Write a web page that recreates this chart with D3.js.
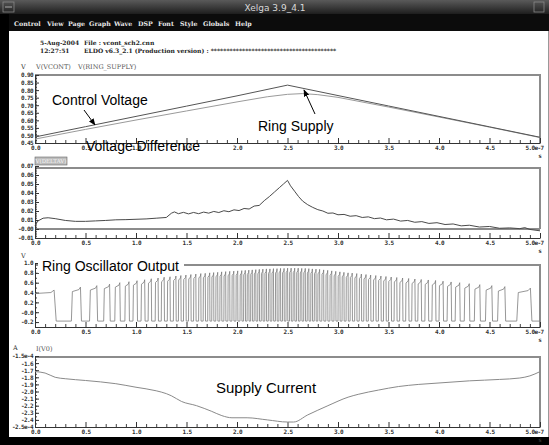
<!DOCTYPE html>
<html><head><meta charset="utf-8">
<script src="https://cdn.jsdelivr.net/npm/d3@7"></script>
<style>body{margin:0;background:#fff;overflow:hidden}svg{display:block}</style>
</head><body><svg id="c" width="549" height="445"></svg>
<script>
// ---------------- DATA ----------------
const xMajorTicks = [0, 0.5, 1, 1.5, 2, 2.5, 3, 3.5, 4, 4.5, 5];
const xMajorLabels = ["0.0","0.5","1.0","1.5","2.0","2.5","3.0","3.5","4.0","4.5","5.0e-7"];

// Panel 1: V(VCONT), V(RING_SUPPLY)  (time in 1e-7 s)
const vcontT = [0, 0.5, 1, 1.5, 2, 2.5, 3, 3.5, 4, 4.5, 5];
const vcontV = [0.49, 0.558, 0.626, 0.694, 0.762, 0.833, 0.764, 0.695, 0.626, 0.557, 0.488];
const ringT = [0, 0.5, 1, 1.5, 2, 2.3, 2.5, 2.65, 2.8, 3, 3.5, 4, 4.5, 5];
const ringV = [0.476, 0.54, 0.602, 0.662, 0.722, 0.756, 0.772, 0.777, 0.77, 0.752, 0.688, 0.622, 0.555, 0.486];
const p1Ticks = [0.45,0.50,0.55,0.60,0.65,0.70,0.75,0.80,0.85,0.90];
const p1Labels = ["0.45","0.50","0.55","0.60","0.65","0.70","0.75","0.80","0.85","0.90"];

// Panel 2: V(DELTAV)
const deltaT = [0,0.03,0.08,0.13,0.2,0.3,0.4,0.5,0.6,0.7,0.8,0.9,1.0,1.1,1.2,1.3,1.35,1.38,1.42,1.47,1.52,1.57,1.62,1.67,1.72,1.77,1.82,1.87,1.92,1.97,2.02,2.07,2.12,2.17,2.22,2.27,2.32,2.37,2.42,2.46,2.5,2.53,2.57,2.61,2.65,2.7,2.75,2.8,2.85,2.9,2.95,3.0,3.06,3.12,3.18,3.24,3.3,3.36,3.42,3.48,3.55,3.62,3.69,3.76,3.83,3.9,3.98,4.06,4.14,4.22,4.3,4.4,4.5,4.6,4.7,4.8,4.85,4.9,5.0];
const deltaV = [0.004,0.009,0.012,0.0125,0.0115,0.0095,0.0085,0.0085,0.009,0.0095,0.0102,0.0104,0.0108,0.0112,0.012,0.0128,0.0175,0.019,0.017,0.0185,0.0168,0.0184,0.017,0.0188,0.0176,0.0195,0.0183,0.0203,0.0192,0.0213,0.0205,0.0228,0.0222,0.0255,0.0262,0.0315,0.036,0.041,0.046,0.05,0.054,0.048,0.042,0.036,0.031,0.027,0.024,0.0215,0.02,0.0175,0.0178,0.0158,0.0162,0.0142,0.0148,0.0128,0.0135,0.0115,0.0122,0.0102,0.011,0.0088,0.0095,0.0075,0.0082,0.0062,0.007,0.005,0.0056,0.0035,0.0042,0.0022,0.0028,0.0008,0.0012,0.0004,0.0015,-0.0005,-0.002];
const p2Ticks = [-0.01,0,0.01,0.02,0.03,0.04,0.05,0.06,0.07];
const p2Labels = ["-0.01","-0.00","0.01","0.02","0.03","0.04","0.05","0.06","0.07"];

// Panel 3: ring oscillator output, pulses [rise, fall, high level]; low level
const oscLow = -0.18;
const oscPulses = [
 [0,0.21,0.40],[0.36,0.46,0.46],[0.54,0.62,0.49],[0.68,0.745,0.52],[0.79,0.845,0.55],
 [0.89,0.935,0.57],[0.97,1.015,0.59],[1.05,1.09,0.61],[1.12,1.155,0.63],[1.19,1.222,0.645],
 [1.25,1.282,0.66],[1.31,1.34,0.67],[1.37,1.398,0.685],[1.42,1.447,0.695],[1.47,1.497,0.705],
 [1.52,1.546,0.715],[1.57,1.595,0.725],[1.62,1.644,0.735],[1.665,1.688,0.74],[1.71,1.732,0.75],
 [1.75,1.771,0.755],[1.79,1.811,0.76],[1.83,1.85,0.77],[1.87,1.89,0.775],[1.91,1.93,0.78],
 [1.95,1.97,0.785],[1.99,2.009,0.79],[2.03,2.049,0.795],[2.065,2.084,0.80],[2.10,2.119,0.805],
 [2.135,2.153,0.81],[2.17,2.188,0.815],[2.205,2.223,0.82],[2.24,2.258,0.825],[2.275,2.293,0.83],
 [2.31,2.328,0.83],[2.345,2.363,0.835],[2.38,2.398,0.835],[2.415,2.433,0.84],[2.45,2.468,0.84],
 [2.485,2.503,0.845],[2.52,2.538,0.845],[2.555,2.573,0.845],[2.59,2.608,0.845],[2.625,2.643,0.84],
 [2.66,2.678,0.84],[2.695,2.713,0.835],[2.73,2.748,0.83],[2.765,2.784,0.825],[2.80,2.82,0.82],
 [2.84,2.86,0.81],[2.88,2.90,0.80],[2.92,2.94,0.79],[2.96,2.98,0.78],[3.00,3.021,0.77],
 [3.04,3.061,0.76],[3.08,3.102,0.75],[3.12,3.143,0.745],[3.165,3.188,0.735],[3.21,3.234,0.725],
 [3.255,3.28,0.715],[3.30,3.326,0.705],[3.35,3.377,0.695],[3.40,3.428,0.685],[3.45,3.478,0.675],
 [3.50,3.53,0.665],[3.555,3.585,0.655],[3.61,3.643,0.645],[3.67,3.703,0.635],[3.73,3.765,0.625],
 [3.79,3.828,0.615],[3.86,3.898,0.605],[3.93,3.97,0.595],[4.00,4.045,0.58],[4.08,4.125,0.565],
 [4.16,4.21,0.55],[4.25,4.305,0.53],[4.35,4.41,0.51],[4.46,4.53,0.49],[4.58,4.66,0.47],
 [4.77,4.92,0.44]
];
const p3Ticks = [-0.2,0,0.2,0.4,0.6,0.8,1.0];
const p3Labels = ["-0.2","-0.0","0.2","0.4","0.6","0.8","1.0"];

// Panel 4: I(V0) in 1e-4 A
const curT = [0,0.1,0.2,0.3,0.5,0.8,1.0,1.2,1.3,1.35,1.45,1.6,1.75,1.85,1.95,2.1,2.3,2.5,2.56,2.7,2.9,3.1,3.2,3.4,3.6,3.8,4.0,4.3,4.6,4.8,4.9,5.0];
const curV = [-1.72,-1.74,-1.8,-1.82,-1.845,-1.89,-1.94,-1.99,-2.03,-2.06,-2.14,-2.2,-2.28,-2.34,-2.37,-2.37,-2.4,-2.43,-2.43,-2.33,-2.2,-2.08,-2.04,-1.98,-1.93,-1.9,-1.88,-1.85,-1.83,-1.81,-1.78,-1.72];
const p4Ticks = [-2.5,-2.4,-2.3,-2.2,-2.1,-2.0,-1.9,-1.8,-1.7,-1.6,-1.5];
const p4Labels = ["-2.5e-4","-2.4","-2.3","-2.2","-2.1","-2.0","-1.9","-1.8","-1.7","-1.6","-1.5e-4"];

const menuItems = ["Control","View","Page","Graph","Wave","DSP","Font","Style","Globals","Help"];

// ---------------- DRAW ----------------
const svg = d3.select("#c");
const W = 549, H = 445;
const X0 = 35, X1 = 540;
const x = d3.scaleLinear().domain([0,5]).range([X0,X1]);
const tickFont = "bold 6px 'DejaVu Sans Mono', monospace";
const tickLS = "-0.6px";

// window chrome
const defs = svg.append("defs");
const tg = defs.append("linearGradient").attr("id","tb").attr("x1",0).attr("y1",0).attr("x2",0).attr("y2",1);
tg.append("stop").attr("offset","0").attr("stop-color","#5a5a5a");
tg.append("stop").attr("offset","1").attr("stop-color","#1e1e1e");
svg.append("rect").attr("x",0).attr("y",0).attr("width",W).attr("height",14).attr("fill","url(#tb)");
svg.append("rect").attr("x",3).attr("y",2).attr("width",11).attr("height",10).attr("fill","none").attr("stroke","#888").attr("stroke-width",0.8);
svg.append("line").attr("x1",5).attr("x2",12).attr("y1",7).attr("y2",7).attr("stroke","#aaa");
svg.append("rect").attr("x",534).attr("y",2).attr("width",10).attr("height",10).attr("fill","none").attr("stroke","#888").attr("stroke-width",0.8);
svg.append("text").attr("x",275).attr("y",10.5).attr("text-anchor","middle")
  .style("font","9px 'DejaVu Sans', sans-serif").attr("fill","#d8d8d8").text("Xelga 3.9_4.1");
svg.append("rect").attr("x",0).attr("y",14).attr("width",W).attr("height",17).attr("fill","#0c0c0c");
const menuX = [14,47,68,89,114,138,158,180,203,235];
svg.append("g").selectAll("text").data(menuItems).join("text")
  .attr("x",(d,i)=>menuX[i]).attr("y",25.5)
  .style("font","bold 6.3px 'DejaVu Serif', serif").attr("fill","#e8e8e8").text(d=>d);
svg.append("rect").attr("x",0).attr("y",14).attr("width",9).attr("height",H-14).attr("fill","#000");
svg.append("rect").attr("x",0).attr("y",437).attr("width",W).attr("height",8).attr("fill","#000");
svg.append("line").attr("x1",548.5).attr("x2",548.5).attr("y1",31).attr("y2",437).attr("stroke","#999");

// header
const hdrFont = "bold 6px 'DejaVu Serif', serif";
[["5-Aug-2004",40,45],["File : vcont_sch2.cnn",84,45],["12:27:51",40,53],
 ["ELDO v6.3_2.1 (Production version) : ****************************************",84,53]]
 .forEach(r=>svg.append("text").attr("x",r[1]).attr("y",r[2]).style("font",hdrFont).attr("fill","#222").text(r[0]));

function xAxis(g, yPos){
  const minor = d3.range(0,5.0001,0.1).filter(v=>Math.abs(v*2-Math.round(v*2))>1e-6);
  g.append("g").attr("transform",`translate(0,${yPos})`)
    .call(d3.axisBottom(x).tickValues(minor).tickSize(-3).tickFormat(""))
    .call(s=>s.select(".domain").remove()).selectAll("line").attr("stroke","#444");
  const ax = g.append("g").attr("transform",`translate(0,${yPos})`)
    .call(d3.axisBottom(x).tickValues(xMajorTicks).tickSize(-5).tickPadding(3)
      .tickFormat((d,i)=>xMajorLabels[i]).tickSizeOuter(0));
  ax.select(".domain").attr("stroke","#333");
  ax.selectAll("line").attr("stroke","#333");
  ax.selectAll("text").style("font",tickFont).style("letter-spacing",tickLS).attr("fill","#333")
    .attr("text-anchor",(d,i)=>i===xMajorTicks.length-1?"end":"middle")
    .attr("dx",(d,i)=>i===xMajorTicks.length-1?"3":"0");
  g.append("text").attr("x",X1).attr("y",yPos+15).attr("text-anchor","middle").style("font",tickFont).attr("fill","#333").text("s");
}
function yAxis(g, y, ticks, labels, minorStep){
  const dom = y.domain();
  const minor = d3.range(dom[0], dom[1]+1e-9, minorStep);
  g.append("g").attr("transform",`translate(${X0},0)`)
    .call(d3.axisLeft(y).tickValues(minor).tickSize(-2).tickFormat(""))
    .call(s=>s.select(".domain").remove()).selectAll("line").attr("stroke","#444");
  const ax = g.append("g").attr("transform",`translate(${X0},0)`)
    .call(d3.axisLeft(y).tickValues(ticks).tickSize(-4).tickPadding(2).tickFormat((d,i)=>labels[i]).tickSizeOuter(0));
  ax.select(".domain").attr("stroke","#333");
  ax.selectAll("line").attr("stroke","#333");
  ax.selectAll("text").style("font",tickFont).style("letter-spacing",tickLS).attr("fill","#333");
}
function frame(top,bottom){
  svg.append("path").attr("d",`M${X0},${top}H${X1}V${bottom}`).attr("fill","none").attr("stroke","#8c8c8c").attr("stroke-width",2);
}
const labFont = "6.5px 'DejaVu Serif', serif";

// ---- Panel 1
const y1 = d3.scaleLinear().domain([0.45,0.90]).range([143,75]);
frame(75,143);
const g1 = svg.append("g");
yAxis(g1,y1,p1Ticks,p1Labels,0.01);
xAxis(g1,143);
svg.append("text").attr("x",21).attr("y",69).style("font",labFont).attr("fill","#333").text("V");
svg.append("text").attr("x",36).attr("y",69).style("font",labFont).attr("fill","#555").text("V(VCONT)");
svg.append("text").attr("x",78).attr("y",69).style("font",labFont).attr("fill","#555").text("V(RING_SUPPLY)");
svg.append("path").datum(d3.zip(ringT,ringV)).attr("d",d3.line().x(d=>x(d[0])).y(d=>y1(d[1]))).attr("fill","none").attr("stroke","#9a9a9a").attr("stroke-width",1);
svg.append("path").datum(d3.zip(vcontT,vcontV)).attr("d",d3.line().x(d=>x(d[0])).y(d=>y1(d[1]))).attr("fill","none").attr("stroke","#555").attr("stroke-width",1);

// ---- Panel 2
const y2 = d3.scaleLinear().domain([-0.01,0.07]).range([238,166]);
frame(168,y2(0));
svg.append("line").attr("x1",X0).attr("x2",X1).attr("y1",y2(0)).attr("y2",y2(0)).attr("stroke","#8c8c8c").attr("stroke-width",2);
const g2 = svg.append("g");
yAxis(g2,y2,p2Ticks,p2Labels,0.002);
xAxis(g2,238);
svg.append("rect").attr("x",35).attr("y",157).attr("width",32).attr("height",8).attr("fill","#bdbdbd").attr("stroke","#666").attr("stroke-width",0.6);
svg.append("text").attr("x",51).attr("y",163.3).attr("text-anchor","middle").style("font","5.5px 'DejaVu Serif', serif").attr("fill","#f4f4f4").text("V(DELTAV)");
svg.append("path").datum(d3.zip(deltaT,deltaV)).attr("d",d3.line().x(d=>x(d[0])).y(d=>y2(d[1]))).attr("fill","none").attr("stroke","#4a4a4a").attr("stroke-width",1);

// ---- Panel 3
const y3 = d3.scaleLinear().domain([-0.3,1.0]).range([327,263]);
frame(265,327);
const g3 = svg.append("g");
yAxis(g3,y3,p3Ticks,p3Labels,0.1);
xAxis(g3,327);
svg.append("text").attr("x",21).attr("y",258).style("font",labFont).attr("fill","#333").text("V");
const oscPts = [];
oscPulses.forEach((p,i)=>{
  const w = p[1]-p[0];
  if(i===0){ oscPts.push([p[0],p[2]-0.02]); }
  else { oscPts.push([p[0],oscLow],[p[0]+w*0.1,p[2]-0.04]); }
  oscPts.push([p[1]-w*0.25,p[2]],[p[1]-w*0.1,p[2]+0.05],[p[1],oscLow]);
});
oscPts.push([5,oscLow]);
svg.append("path").datum(oscPts).attr("d",d3.line().x(d=>x(d[0])).y(d=>y3(d[1]))).attr("fill","none").attr("stroke","#7c7c7c").attr("stroke-width",0.8);

// ---- Panel 4
const y4 = d3.scaleLinear().domain([-2.5,-1.5]).range([427,356]);
frame(357,427);
const g4 = svg.append("g");
yAxis(g4,y4,p4Ticks,p4Labels,0.05);
xAxis(g4,427);
svg.append("text").attr("x",13).attr("y",350).style("font",labFont).attr("fill","#333").text("A");
svg.append("text").attr("x",36).attr("y",351).style("font",labFont).attr("fill","#555").text("I(V0)");
svg.append("path").datum(d3.zip(curT,curV)).attr("d",d3.line().curve(d3.curveMonotoneX).x(d=>x(d[0])).y(d=>y4(d[1]))).attr("fill","none").attr("stroke","#8a8a8a").attr("stroke-width",1);

// ---- Annotations
const ann = s => `${s}px 'Liberation Sans', Arial, sans-serif`;
defs.append("marker").attr("id","ah").attr("viewBox","0 0 10 10").attr("refX",9).attr("refY",5)
  .attr("markerWidth",7).attr("markerHeight",7).attr("orient","auto")
  .append("path").attr("d","M0,1L10,5L0,9Z").attr("fill","#000");
svg.append("text").attr("x",52).attr("y",105).style("font",ann(14)).attr("fill","#000").text("Control Voltage");
svg.append("line").attr("x1",84).attr("y1",110).attr("x2",95).attr("y2",125).attr("stroke","#000").attr("stroke-width",1).attr("marker-end","url(#ah)");
svg.append("text").attr("x",258).attr("y",131).style("font",ann(14)).attr("fill","#000").text("Ring Supply");
svg.append("line").attr("x1",315).attr("y1",114).attr("x2",304).attr("y2",90).attr("stroke","#000").attr("stroke-width",1).attr("marker-end","url(#ah)");
svg.append("text").attr("x",86).attr("y",151).style("font",ann(14)).attr("fill","#000").text("Voltage Difference");
svg.append("rect").attr("x",38).attr("y",257).attr("width",146).attr("height",16).attr("fill","#fff");
svg.append("text").attr("x",42).attr("y",271).style("font",ann(14)).attr("fill","#000").text("Ring Oscillator Output");
svg.append("text").attr("x",216).attr("y",393).style("font",ann(15)).attr("fill","#000").text("Supply Current");
</script></body></html>
